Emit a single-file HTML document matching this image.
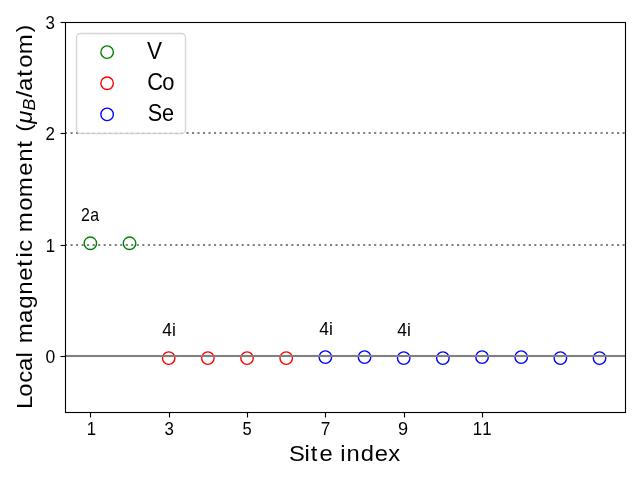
<!DOCTYPE html>
<html><head><meta charset="utf-8"><title>Local magnetic moment</title>
<style>html,body{margin:0;padding:0;background:#fff;overflow:hidden}svg{display:block;will-change:transform}text{font-family:"Liberation Sans",sans-serif;fill:#000;white-space:pre}</style></head><body>
<svg width="640" height="480" viewBox="0 0 640 480">
<rect width="640" height="480" fill="#fff"/>
<circle cx="90.36" cy="243.30" r="6.25" fill="none" stroke="#008000" stroke-width="1.39"/>
<circle cx="129.53" cy="243.30" r="6.25" fill="none" stroke="#008000" stroke-width="1.39"/>
<circle cx="168.70" cy="358.11" r="6.25" fill="none" stroke="#ff0000" stroke-width="1.39"/>
<circle cx="207.86" cy="358.11" r="6.25" fill="none" stroke="#ff0000" stroke-width="1.39"/>
<circle cx="247.03" cy="358.11" r="6.25" fill="none" stroke="#ff0000" stroke-width="1.39"/>
<circle cx="286.20" cy="358.11" r="6.25" fill="none" stroke="#ff0000" stroke-width="1.39"/>
<circle cx="325.37" cy="357.11" r="6.25" fill="none" stroke="#0000ff" stroke-width="1.39"/>
<circle cx="364.54" cy="357.11" r="6.25" fill="none" stroke="#0000ff" stroke-width="1.39"/>
<circle cx="403.70" cy="358.11" r="6.25" fill="none" stroke="#0000ff" stroke-width="1.39"/>
<circle cx="442.87" cy="358.11" r="6.25" fill="none" stroke="#0000ff" stroke-width="1.39"/>
<circle cx="482.04" cy="357.11" r="6.25" fill="none" stroke="#0000ff" stroke-width="1.39"/>
<circle cx="521.21" cy="357.11" r="6.25" fill="none" stroke="#0000ff" stroke-width="1.39"/>
<circle cx="560.37" cy="358.11" r="6.25" fill="none" stroke="#0000ff" stroke-width="1.39"/>
<circle cx="599.54" cy="358.11" r="6.25" fill="none" stroke="#0000ff" stroke-width="1.39"/>
<rect x="64.90" y="354" width="560.10" height="4" fill="#808080" fill-opacity="0.047"/>
<line x1="64.90" x2="625.00" y1="356" y2="356" stroke="#808080" stroke-width="2.08"/>
<line x1="65" x2="625.00" y1="245" y2="245" stroke="#808080" stroke-width="2.08" stroke-dasharray="2.0833 3.4375"/>
<line x1="65" x2="625.00" y1="133" y2="133" stroke="#808080" stroke-width="2.08" stroke-dasharray="2.0833 3.4375"/>
<line x1="90.5" x2="90.5" y1="412" y2="417.5" stroke="#000" stroke-width="1.11"/>
<text transform="translate(86.27,435) scale(0.9220,1)" font-size="18.2"><tspan x="0.6" y="0">1</tspan></text>
<line x1="169.5" x2="169.5" y1="412" y2="417.5" stroke="#000" stroke-width="1.11"/>
<text transform="translate(163.99,435) scale(0.9271,1)" font-size="18.2"><tspan x="0.68" y="0">3</tspan></text>
<line x1="247.5" x2="247.5" y1="412" y2="417.5" stroke="#000" stroke-width="1.11"/>
<text transform="translate(241.88,435) scale(0.9110,1)" font-size="18.2"><tspan x="0.68" y="0">5</tspan></text>
<line x1="325.5" x2="325.5" y1="412" y2="417.5" stroke="#000" stroke-width="1.11"/>
<text transform="translate(320.23,435) scale(0.9443,1)" font-size="18.2"><tspan x="0.51" y="0">7</tspan></text>
<line x1="404.5" x2="404.5" y1="412" y2="417.5" stroke="#000" stroke-width="1.11"/>
<text transform="translate(397.69,435) scale(0.9970,1)" font-size="18.2"><tspan x="0.2" y="0">9</tspan></text>
<line x1="482.5" x2="482.5" y1="412" y2="417.5" stroke="#000" stroke-width="1.11"/>
<text transform="translate(471.25,435) scale(0.9220,1)" font-size="18.2"><tspan x="1.68 11.83" y="0">11</tspan></text>
<line x1="60.5" x2="65.5" y1="356.5" y2="356.5" stroke="#000" stroke-width="1.11"/>
<text transform="translate(45.18,363) scale(0.9653,1)" font-size="18.2"><tspan x="0.43" y="0">0</tspan></text>
<line x1="60.5" x2="65.5" y1="245.5" y2="245.5" stroke="#000" stroke-width="1.11"/>
<text transform="translate(45.14,252) scale(0.9220,1)" font-size="18.2"><tspan x="0.6" y="0">1</tspan></text>
<line x1="60.5" x2="65.5" y1="133.5" y2="133.5" stroke="#000" stroke-width="1.11"/>
<text transform="translate(45.13,140) scale(0.9305,1)" font-size="18.2"><tspan x="0.4" y="0">2</tspan></text>
<line x1="60.5" x2="65.5" y1="22.5" y2="22.5" stroke="#000" stroke-width="1.11"/>
<text transform="translate(44.97,29) scale(0.9271,1)" font-size="18.2"><tspan x="0.68" y="0">3</tspan></text>
<rect x="65.5" y="22.5" width="560" height="390" fill="none" stroke="#000" stroke-width="1.11"/>
<text transform="translate(290.27,461) scale(1.0651,1)" font-size="22.3"><tspan x="-1.17 13.44 19.27 27.48 40.06 46.89 52.71 66.24 79.21 91.97" y="0">Site index</tspan></text>
<text transform="translate(32.12,409.17) rotate(-90) scale(1.0811,1)" font-size="22.2"><tspan x="0.2 11.57 24.34 35.36 47.85 53.64 60.99 79.76 92.79 105.76 118.83 131.71 140.2 145.6 156.58 163.71 183.49 196.07 215.93 228.77 241.84 249.47" y="0">Local magnetic moment </tspan><tspan x="256.78" y="-1.5" font-size="20.5">(</tspan><tspan x="264.07" y="0" font-style="italic">μ</tspan><tspan x="276.35" y="2.7" font-style="italic" font-size="16.4">B</tspan><tspan x="288.19 294.3 307.52 315.74 328.32" y="0">/atom</tspan><tspan x="348.64" y="-1.5" font-size="20.5">)</tspan></text>
<text transform="translate(79.91,221) scale(0.8738,1)" font-size="18.2"><tspan x="1.32 11.95" y="0">2a</tspan></text>
<text transform="translate(161.93,336) scale(0.9611,1)" font-size="18.2"><tspan x="0.45 10.39" y="0">4i</tspan></text>
<text transform="translate(318.5,335) scale(0.9610,1)" font-size="18.2"><tspan x="0.71 10.91" y="0">4i</tspan></text>
<text transform="translate(396.94,336) scale(0.9610,1)" font-size="18.2"><tspan x="0.45 10.39" y="0">4i</tspan></text>
<rect x="76.5" y="33.5" width="109" height="100" rx="4" ry="4" fill="#fff" fill-opacity="0.8" stroke="#cccccc" stroke-opacity="0.8" stroke-width="1.39"/>
<circle cx="107.12" cy="52.17" r="6.25" fill="none" stroke="#008000" stroke-width="1.39"/>
<text transform="translate(146.81,59) scale(0.9700,1)" font-size="23.25"><tspan x="0.08" y="0">V</tspan></text>
<circle cx="107.12" cy="83.28" r="6.25" fill="none" stroke="#ff0000" stroke-width="1.39"/>
<text transform="translate(146.66,90) scale(0.9422,1)" font-size="23.25"><tspan x="0.51 16.69" y="0">Co</tspan></text>
<circle cx="107.12" cy="114.39" r="6.25" fill="none" stroke="#0000ff" stroke-width="1.39"/>
<text transform="translate(147.5,121) scale(0.9330,1)" font-size="23.25"><tspan x="0.2 15.49" y="0">Se</tspan></text>
</svg></body></html>
